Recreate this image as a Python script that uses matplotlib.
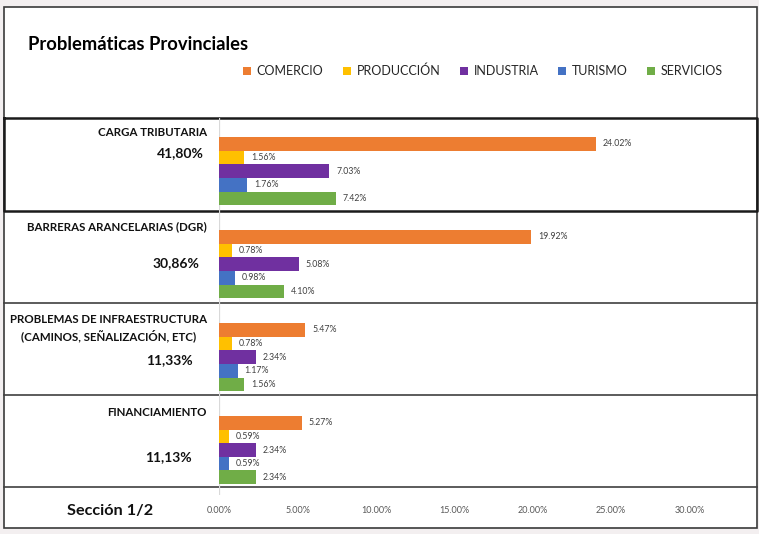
import matplotlib.pyplot as plt
import numpy as np

plt.rcParams["font.family"] = ["Lato", "DejaVu Sans"]

# --- data -------------------------------------------------------------
categories = [
    "CARGA TRIBUTARIA",
    "BARRERAS ARANCELARIAS (DGR)",
    "PROBLEMAS DE INFRAESTRUCTURA\n(CAMINOS, SEÑALIZACIÓN, ETC)",
    "FINANCIAMIENTO",
]
totals = ["41,80%", "30,86%", "11,33%", "11,13%"]
series = ["COMERCIO", "PRODUCCIÓN", "INDUSTRIA", "TURISMO", "SERVICIOS"]
comercio = [24.02, 19.92, 5.47, 5.27]
produccion = [1.56, 0.78, 0.78, 0.59]
industria = [7.03, 5.08, 2.34, 2.34]
turismo = [1.76, 0.98, 1.17, 0.59]
servicios = [7.42, 4.10, 1.56, 2.34]
x_ticks = [0, 5, 10, 15, 20, 25, 30]

colors = ["#ED7D31", "#FFC000", "#7030A0", "#4472C4", "#70AD47"]

# layout in pixels (label y, total right x, total y) per row
row_text = [(133, 204, 153), (227, 199, 263), (328, 193, 360), (413, 192, 457)]
row_borders = [118.3, 210.7, 303.3, 395.0, 487.3]

W, H = 759, 534
fig = plt.figure(figsize=(W / 100, H / 100), dpi=100, facecolor="#f3eff0")

# background / frame axes in pixel coordinates
bg = fig.add_axes([0, 0, 1, 1], zorder=0)
bg.set_xlim(0, W); bg.set_ylim(H, 0)
bg.axis("off")
bg.add_patch(plt.Rectangle((4.3, 7.3), 753, 520.4, facecolor="white",
                           edgecolor="#3a3a3a", lw=1.2))
for y in row_borders[2:]:
    bg.plot([4.3, 757.3], [y, y], color="#404040", lw=1.2)
# first row boxed with a heavier line
bg.plot([4.3, 756.7, 756.7, 4.3, 4.3],
        [row_borders[0], row_borders[0], row_borders[1], row_borders[1], row_borders[0]],
        color="#1a1a1a", lw=1.8)

bg.text(28, 44, "Problemáticas Provinciales", fontsize=13.2, fontweight="bold",
        ha="left", va="center", color="black")
for cat, tot, (ly, tx, ty) in zip(categories, totals, row_text):
    bg.text(207, ly, cat, fontsize=8.3, fontweight="bold", ha="right", va="center",
            multialignment="center", linespacing=1.35, color="#111111")
    bg.text(tx, ty, tot, fontsize=10, fontweight="bold", ha="right", va="center",
            color="#111111")
bg.text(110, 511, "Sección 1/2", fontsize=11.7, fontweight="bold", ha="center",
        va="center", color="#111111")

# --- bars -------------------------------------------------------------
x0, px_per_pct = 219.3, 15.67
top_px, bot_px = 118.3, 495.0
pitch, mid0 = 92.9, 171.3
ax = fig.add_axes([x0 / W, 1 - bot_px / H, (757 - x0) / W, (bot_px - top_px) / H],
                  zorder=1)
ax.patch.set_alpha(0)
ax.set_xlim(0, (757 - x0) / px_per_pct)
ax.set_ylim((bot_px - mid0) / pitch, -(mid0 - top_px) / pitch)

bar_h = 13.65 / pitch
pos = np.arange(len(categories))
all_vals = [comercio, produccion, industria, turismo, servicios]
handles = []
for k, (name, vals, c) in enumerate(zip(series, all_vals, colors)):
    yk = pos + (k - 2) * bar_h
    b = ax.barh(yk, vals, height=bar_h, color=c, label=name, zorder=2)
    handles.append(b)
    for y, v in zip(yk, vals):
        ax.text(v + 0.45, y, f"{v:.2f}%", fontsize=6.3, ha="left", va="center",
                color="#404040")

ax.axvline(0, color="#d9d9d9", lw=0.9, zorder=1)
for s in ax.spines.values():
    s.set_visible(False)
ax.set_yticks([])
ax.set_xticks(x_ticks)
ax.set_xticklabels([f"{t:.2f}%" for t in x_ticks])
ax.tick_params(axis="x", length=0, pad=8, labelsize=6.5, labelcolor="#595959")

fig.legend(handles=handles, loc="center", bbox_to_anchor=(483 / W, 1 - 71 / H),
           ncol=5, frameon=False, fontsize=9, handlelength=0.65, handleheight=0.65,
           handletextpad=0.45, columnspacing=1.55, labelcolor="#262626")

fig.savefig("out.png", dpi=100, facecolor=fig.get_facecolor())
